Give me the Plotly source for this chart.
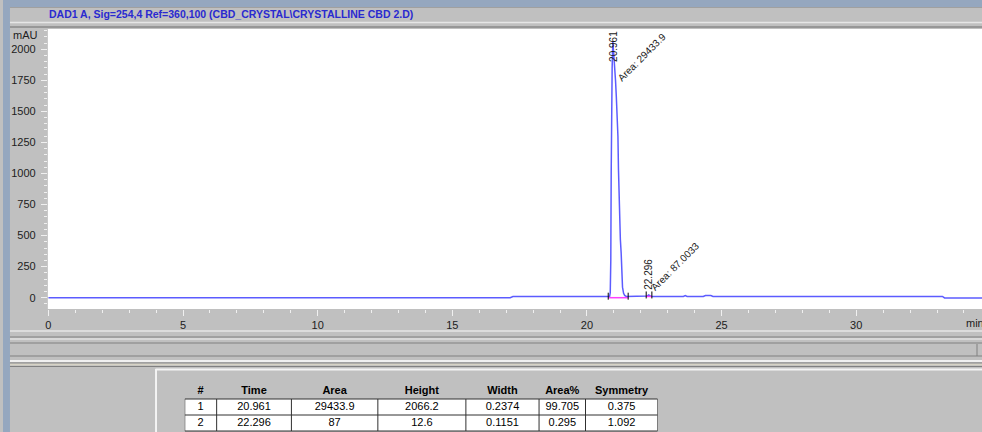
import plotly.graph_objects as go

# ---------------- data ----------------
time_min = [0.0, 17.15, 17.25, 20.79, 20.84, 20.865, 20.885, 20.90, 20.915, 20.935,
            20.961, 20.99, 21.03, 21.06, 21.09, 21.12, 21.15, 21.17, 21.19, 21.21,
            21.24, 21.27, 21.30, 21.32, 21.36, 21.40, 21.46, 22.18, 22.24, 22.296,
            22.35, 22.42, 23.58, 23.65, 23.72, 24.32, 24.40, 24.60, 24.68, 33.20,
            33.28, 34.7]
signal_mau = [0, 0, 9, 9, 10, 40, 300, 1000, 1500, 1850,
              2066, 1990, 1850, 1750, 1620, 1484, 1300, 1033, 800, 625,
              470, 360, 200, 85, 35, 18, 10, 10, 14, 22,
              13, 10, 10, 17, 10, 10, 18, 18, 10, 10,
              -2, -2]

peak_no = ["1", "2"]
peak_time = [20.961, 22.296]
peak_area = ["29433.9", "87"]
peak_height = ["2066.2", "12.6"]
peak_width = ["0.2374", "0.1151"]
peak_area_pct = ["99.705", "0.295"]
peak_symmetry = ["0.375", "1.092"]
peak_top = [2066, 22]
area_labels = ["Area: 29433.9", "Area: 87.0033"]

int_start = [20.79, 22.20]
int_end = [21.53, 22.41]
int_base = [0, 10]

x_ticks = [0, 5, 10, 15, 20, 25, 30]
y_ticks = [0, 250, 500, 750, 1000, 1250, 1500, 1750, 2000]
table_header = ["#", "Time", "Area", "Height", "Width", "Area%", "Symmetry"]

title_text = "DAD1 A, Sig=254,4 Ref=360,100 (CBD_CRYSTAL\\CRYSTALLINE CBD 2.D)"

# ---------------- layout helpers ----------------
W, H = 982, 432
def px(x):
    return x / W
def py(y):
    return 1 - y / H

GRAY = "#c0c0c0"
BLUE_FRAME = "#95a7bf"
LINE_BLUE = "#5c5cff"
FONT = "Liberation Sans, Arial, sans-serif"

fig = go.Figure()

fig.add_trace(go.Scatter(x=time_min, y=signal_mau, mode="lines",
                         line=dict(color=LINE_BLUE, width=1.5),
                         hoverinfo="skip", showlegend=False))

# integration baselines
for s, e, b in zip(int_start, int_end, int_base):
    fig.add_trace(go.Scatter(x=[s, e], y=[b, b], mode="lines",
                             line=dict(color="#ff40ff", width=1.5),
                             hoverinfo="skip", showlegend=False))
# integration event marks
ev_x = int_start + int_end
ev_y = [b + 12 for b in int_base] + [b + 12 for b in int_base]
fig.add_trace(go.Scatter(x=ev_x, y=ev_y, mode="markers",
                         marker=dict(symbol="line-ns", size=5,
                                     line=dict(color="black", width=1)),
                         hoverinfo="skip", showlegend=False))

# ---------------- peak table (own axis pair) ----------------
col_widths = [32, 75, 86.7, 88.3, 73.4, 46.6, 72.4]
col_edges = [0]
for w in col_widths:
    col_edges.append(col_edges[-1] + w)
col_centers = [(a + b) / 2 for a, b in zip(col_edges[:-1], col_edges[1:])]
columns = [peak_no, [f"{t:.3f}" for t in peak_time], peak_area, peak_height,
           peak_width, peak_area_pct, peak_symmetry]
n_rows = len(peak_no)

hx, hy, ht = [], [], []
cx, cy, ct = [], [], []
for j, col in enumerate(columns):
    hx.append(col_centers[j]); hy.append(0); ht.append("<b>%s</b>" % table_header[j])
    for i, v in enumerate(col):
        cx.append(col_centers[j]); cy.append(i + 1); ct.append(v)

fig.add_trace(go.Scatter(x=hx, y=hy, text=ht, mode="text", xaxis="x2", yaxis="y2",
                         textposition="middle center", cliponaxis=False,
                         textfont=dict(family=FONT, size=11, color="black"),
                         hoverinfo="skip", showlegend=False))
fig.add_trace(go.Scatter(x=cx, y=cy, text=ct, mode="text", xaxis="x2", yaxis="y2",
                         textposition="middle center", cliponaxis=False,
                         textfont=dict(family=FONT, size=11, color="black"),
                         hoverinfo="skip", showlegend=False))

shapes = []
def hline(y, color, w=1, x0=0, x1=W):
    shapes.append(dict(type="line", xref="paper", yref="paper",
                       x0=px(x0), x1=px(x1), y0=py(y), y1=py(y),
                       line=dict(color=color, width=w), layer="below"))
def rect(x0, y0, x1, y1, color):
    shapes.append(dict(type="rect", xref="paper", yref="paper",
                       x0=px(x0), x1=px(x1), y0=py(y1), y1=py(y0),
                       fillcolor=color, line=dict(width=0), layer="below"))

# white plotting window
rect(45, 29, W, 309, "white")
# top frame
rect(0, 0, W, 7, BLUE_FRAME)
hline(7.5, "#a0a0a0")
hline(22.5, "#e6e6e6", 1.5)
hline(27, "#8a8a8a", 1.5)
# bottom bands
hline(331, "#dcdcdc", 2)
hline(337, "#808080")
hline(339, "#f0f0f0")
hline(343, "#808080")
hline(356, "#808080")
hline(361, "#f0f0f0", 2)
hline(363, "#808080")
hline(364.5, "#d6d2c4", 1.5)
hline(366.5, "#808080")
shapes.append(dict(type="line", xref="paper", yref="paper",
                   x0=px(977), x1=px(977), y0=py(344), y1=py(356),
                   line=dict(color="#808080", width=1), layer="below"))
# lower panel border
shapes.append(dict(type="line", xref="paper", yref="paper",
                   x0=px(153.5), x1=px(153.5), y0=py(369), y1=0,
                   line=dict(color="#f4f4f4", width=2), layer="below"))
hline(369.5, "#f4f4f4", 2, 153, W)
# left frame
rect(0, 0, 7, H, BLUE_FRAME)

# table cells: white body and grid lines in table-axis units
shapes.append(dict(type="rect", xref="x2", yref="y2", x0=col_edges[0], x1=col_edges[-1],
                   y0=0.5, y1=n_rows + 0.5, fillcolor="white", line=dict(width=0),
                   layer="below"))
for e in col_edges:
    shapes.append(dict(type="line", xref="x2", yref="y2", x0=e, x1=e,
                       y0=0.5, y1=n_rows + 0.5, line=dict(color="#303030", width=1)))
for r in range(n_rows + 1):
    shapes.append(dict(type="line", xref="x2", yref="y2", x0=col_edges[0], x1=col_edges[-1],
                       y0=r + 0.5, y1=r + 0.5, line=dict(color="#303030", width=1)))

annotations = []
annotations.append(dict(xref="paper", yref="paper", x=px(44), y=py(14.5),
                        xanchor="left", yanchor="middle", showarrow=False,
                        text="<b>%s</b>" % title_text,
                        font=dict(family=FONT, size=10.5, color="#2a2ad0")))
annotations.append(dict(xref="paper", yref="paper", x=px(37), y=py(35),
                        xanchor="right", yanchor="middle", showarrow=False,
                        text="mAU", font=dict(family=FONT, size=11, color="#202020")))
annotations.append(dict(xref="paper", yref="paper", x=px(964), y=py(323),
                        xanchor="left", yanchor="middle", showarrow=False,
                        text="min", font=dict(family=FONT, size=11, color="#202020")))

# peak labels (offsets in pixels relative to the peak apex; +down)
rt_shift = [(0, 5), (0, -21)]
area_shift = [(28.6, 16), (26.5, -28)]
for i in range(len(peak_time)):
    annotations.append(dict(xref="x", yref="y", x=peak_time[i], y=peak_top[i],
                            xshift=rt_shift[i][0], yshift=-rt_shift[i][1],
                            xanchor="center", yanchor="middle", showarrow=False,
                            textangle=-90, text=f"{peak_time[i]:.3f}",
                            font=dict(family=FONT, size=10, color="#1a1a1a")))
    annotations.append(dict(xref="x", yref="y", x=peak_time[i], y=peak_top[i],
                            xshift=area_shift[i][0], yshift=-area_shift[i][1],
                            xanchor="center", yanchor="middle", showarrow=False,
                            textangle=-45, text=area_labels[i],
                            font=dict(family=FONT, size=10, color="#1a1a1a")))

# table axis: header centre at 391px, rows every 16px
ROW_PX, HEAD_PX, TOP_PX = 16, 391, 385
v_top = (TOP_PX - HEAD_PX) / ROW_PX
v_bot = (H - HEAD_PX) / ROW_PX

fig.update_layout(
    width=W, height=H,
    margin=dict(l=0, r=0, t=0, b=0),
    paper_bgcolor=GRAY, plot_bgcolor="rgba(0,0,0,0)",
    showlegend=False,
    shapes=shapes, annotations=annotations,
    xaxis=dict(domain=[px(45), 1], range=[-0.02, 34.67],
               tickvals=x_ticks, ticktext=[str(v) for v in x_ticks],
               ticks="outside", ticklen=6, tickcolor="#f0f0f0", tickwidth=1,
               minor=dict(dtick=1, ticks="outside", ticklen=3, tickcolor="#f0f0f0"),
               showgrid=False, zeroline=False, showline=False,
               tickfont=dict(family=FONT, size=11, color="#202020"),
               anchor="y", fixedrange=True),
    yaxis=dict(domain=[py(309), py(29)], range=[-91, 2163],
               tickvals=y_ticks, ticktext=[str(v) for v in y_ticks],
               ticks="outside", ticklen=6, tickcolor="#f0f0f0", tickwidth=1,
               ticklabelstandoff=3,
               minor=dict(dtick=50, ticks="outside", ticklen=3, tickcolor="#f0f0f0"),
               showgrid=False, zeroline=False, showline=False,
               tickfont=dict(family=FONT, size=11, color="#202020"),
               anchor="x", fixedrange=True),
    xaxis2=dict(domain=[px(182.3), px(656.7)], range=[col_edges[0], col_edges[-1]],
                visible=False, anchor="y2", fixedrange=True),
    yaxis2=dict(domain=[0, py(TOP_PX)], range=[v_bot, v_top],
                visible=False, anchor="x2", fixedrange=True),
)

fig.write_html("out.html", config={"displayModeBar": False},
               post_script="document.body.style.margin='0px';document.body.style.overflow='hidden';")
